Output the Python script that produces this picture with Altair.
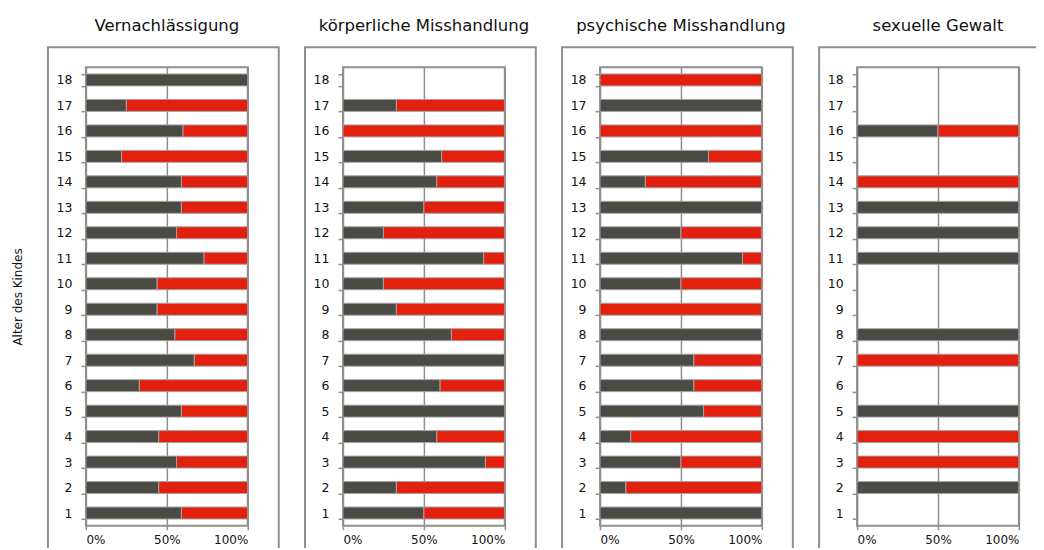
import altair as alt
import pandas as pd

# ---- data (share of dark segment in %, per age 1..18; None = no case) ----
ages = list(range(1, 19))
panel_titles = ["Vernachlässigung", "körperliche  Misshandlung",
                "psychische  Misshandlung", "sexuelle  Gewalt"]
vernachlaessigung = [59, 45, 56, 45, 59, 33, 67, 55, 44, 44, 73, 56, 59, 59, 22, 60, 25, 100]
koerperlich = [50, 33, 88, 58, 100, 60, 100, 67, 33, 25, 87, 25, 50, 58, 61, 0, 33, None]
psychisch = [100, 16, 50, 19, 64, 58, 58, 100, 0, 50, 88, 50, 100, 28, 67, 0, 100, 0]
sexuell = [None, 100, 0, 0, 100, None, 0, 100, None, None, 100, 100, 100, 0, None, 50, None, None]
series = [vernachlaessigung, koerperlich, psychisch, sexuell]
x_ticks = [0, 0.5, 1]
y_title = "Alter des Kindes"

DARK = "#4c4a45"
RED = "#e2200e"
GRID = "#8f8f8f"
FONT = "DejaVu Sans"
W, H = 162, 459
age_domain = list(range(18, 0, -1))


def make_panel(title, values, idx):
    rows = []
    for a, v in zip(ages, values):
        if v is None:
            continue
        if v > 0:
            rows.append({"age": a, "kind": "dark", "k": 0, "share": v})
        if 100 - v > 0:
            rows.append({"age": a, "kind": "red", "k": 1, "share": 100 - v})
    df = pd.DataFrame(rows)

    y_axis_kw = dict(tickBand="extent", tickSize=5, labelPadding=9, domain=False,
                     grid=False, labelFontSize=12.5, labelAngle=0)
    if idx == 0:
        y_axis_kw.update(title=y_title, titleX=-68, titleBaseline="middle",
                         titleFont=FONT, titleFontSize=12,
                         titleFontWeight="normal", titleColor="#111")
    else:
        y_axis_kw.update(title=None)

    bars = alt.Chart(df).mark_bar(stroke="#a3a3a3", strokeWidth=1).encode(
        x=alt.X("share:Q", stack="normalize",
                scale=alt.Scale(domain=[0, 1]),
                axis=alt.Axis(values=x_ticks, format="%", title=None, grid=True,
                              gridColor=GRID, gridWidth=1.5, tickSize=4,
                              labelPadding=5, domain=False, labelFontSize=12)),
        y=alt.Y("age:O",
                scale=alt.Scale(domain=age_domain, paddingInner=0.53, paddingOuter=0.265),
                axis=alt.Axis(**y_axis_kw)),
        color=alt.Color("kind:N", scale=alt.Scale(domain=["dark", "red"], range=[DARK, RED]),
                        legend=None),
        order=alt.Order("k:Q"),
    )

    one = pd.DataFrame({"t": [title]})
    right = 260 if idx == 3 else 193
    frame = alt.Chart(one).mark_rect(fillOpacity=0, stroke=GRID, strokeWidth=2).encode(
        x=alt.value(-38), x2=alt.value(right), y=alt.value(-20), y2=alt.value(H + 60))
    head = alt.Chart(one).mark_text(font=FONT, fontSize=16.5, color="#111",
                                    align="center", baseline="middle").encode(
        x=alt.value(W / 2), y=alt.value(-41), text="t:N")
    layers = [frame, bars, head]
    if idx == 0:
        # invisible anchor fixing the chart's top-left corner
        anchor = alt.Chart(one).mark_rect(opacity=0).encode(
            x=alt.value(-77), x2=alt.value(0), y=alt.value(-58), y2=alt.value(0))
        layers.insert(0, anchor)
    return alt.layer(*layers).properties(width=W, height=H)


panels = [make_panel(t, s, i) for i, (t, s) in enumerate(zip(panel_titles, series))]

chart = alt.hconcat(*panels, spacing=95.3, bounds="flush").properties(
    padding={"left": 0, "top": 0, "right": -83, "bottom": -40}
).configure_view(stroke=GRID, strokeWidth=2).configure_axis(
    labelFont=FONT, labelColor="#111", tickColor=GRID, tickWidth=1.5
)

chart.save("out.html", embed_options={"renderer": "svg", "actions": False})
